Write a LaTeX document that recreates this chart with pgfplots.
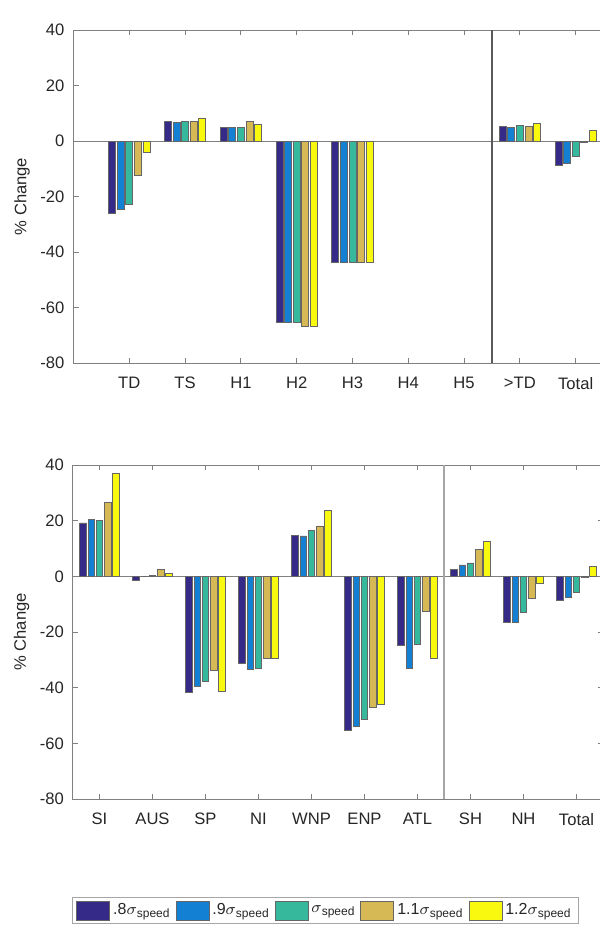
\documentclass[border=0pt]{standalone}
\usepackage{fontspec}
\setmainfont{Liberation Sans}
\usepackage{pgfplots}
\pgfplotsset{compat=1.18}
\definecolor{c1}{RGB}{53,42,135}
\definecolor{c2}{RGB}{20,128,212}
\definecolor{c3}{RGB}{54,184,156}
\definecolor{c4}{RGB}{214,185,84}
\definecolor{c5}{RGB}{249,249,15}
\definecolor{axgray}{RGB}{128,128,128}
\definecolor{txt}{RGB}{38,38,38}
\pgfplotsset{
  bb/.style={ybar, bar width=0.125, draw=black!60, line width=0.4pt},
  b1/.style={bb, bar shift=-0.308, fill=c1},
  b2/.style={bb, bar shift=-0.154, fill=c2},
  b3/.style={bb, bar shift=0, fill=c3},
  b4/.style={bb, bar shift=0.154, fill=c4},
  b5/.style={bb, bar shift=0.308, fill=c5},
  common/.style={
    scale only axis,
    ymin=-80, ymax=40,
    ytick={-80,-60,-40,-20,0,20,40},
    yticklabels={-80,-60,-40,-20,0,20,40},
    tick align=inside,
    major tick length=2.5pt,
    axis line style={axgray, line width=0.5pt},
    every tick/.style={axgray, line width=0.5pt},
    tick label style={font=\fontsize{8.3}{10}\selectfont, text=txt},
    xticklabel style={yshift=-3.5pt},
    yticklabel style={xshift=-1pt},
    label style={font=\fontsize{8.3}{10}\selectfont, text=txt},
  }
}
\begin{document}
\begin{tikzpicture}
% panel (a)
\begin{axis}[common,
  at={(36.75pt,285.5pt)}, anchor=south west,
  width=279pt, height=166.5pt,
  xmin=0, xmax=10,
  xtick={1,2,3,4,5,6,7,8,9},
  xticklabels={TD,TS,H1,H2,H3,H4,H5,>TD,Total},
  ylabel={\% Change},
  ylabel style={at={(axis description cs:-0.092,0.5)}, anchor=center, rotate=0},
]
\addplot[draw=axgray, line width=0.5pt, forget plot] coordinates {(0,0) (10,0)};
\addplot[b1] coordinates {(1,-26.0) (2,7.0) (3,4.8) (4,-65.4) (5,-43.6) (8,5.4) (9,-8.8)};
\addplot[b2] coordinates {(1,-24.5) (2,6.8) (3,4.8) (4,-65.4) (5,-43.6) (8,5.0) (9,-8.0)};
\addplot[b3] coordinates {(1,-22.7) (2,7.2) (3,4.8) (4,-65.4) (5,-43.6) (8,5.5) (9,-5.6)};
\addplot[b4] coordinates {(1,-12.5) (2,7.0) (3,6.9) (4,-66.9) (5,-43.6) (8,5.2) (9,-0.4)};
\addplot[b5] coordinates {(1,-4.2) (2,8.3) (3,6.0) (4,-66.9) (5,-43.6) (8,6.4) (9,3.7)};
\draw[black!65, line width=0.6pt] (axis cs:7.5,-80) -- (axis cs:7.5,40);
\node[font=\bfseries\fontsize{8.3}{10}\selectfont, text=txt, anchor=south] at (axis description cs:0.474,1.004) {(a)};
\end{axis}
% panel (b)
\begin{axis}[common,
  at={(36.5pt,67.5pt)}, anchor=south west,
  width=265pt, height=167pt,
  xmin=0.5, xmax=10.5,
  xtick={1,2,3,4,5,6,7,8,9,10},
  xticklabels={SI,AUS,SP,NI,WNP,ENP,ATL,SH,NH,Total},
  ylabel={\% Change},
  ylabel style={at={(axis description cs:-0.097,0.5)}, anchor=center, rotate=0},
  legend columns=5,
  legend image code/.code={\draw[#1] (0pt,-4.75pt) rectangle (16.5pt,4.75pt);},
  legend style={at={(axis description cs:-0.002,-0.293)}, anchor=north west,
    draw=black!35, line width=0.5pt, inner xsep=2pt, inner ysep=1.5pt,
    font=\fontsize{8}{9.6}\selectfont, text=txt,
    /tikz/every even column/.append style={column sep=1pt},
    /tikz/every odd column/.append style={column sep=0pt},
    nodes={inner sep=1.5pt}},
]
\addplot[draw=axgray, line width=0.5pt, forget plot] coordinates {(0.5,0) (10.5,0)};
\addplot[b1] coordinates {(1,19.2) (2,-1.6) (3,-41.8) (4,-31.2) (5,14.7) (6,-55.2) (7,-24.8) (8,2.4) (9,-16.5) (10,-8.8)};
\addplot[b2] coordinates {(1,20.4) (2,0.1) (3,-39.4) (4,-33.6) (5,14.5) (6,-54.0) (7,-33.2) (8,4.1) (9,-16.5) (10,-7.7)};
\addplot[b3] coordinates {(1,20.1) (2,0.3) (3,-37.8) (4,-33.1) (5,16.4) (6,-51.5) (7,-24.6) (8,4.8) (9,-13.0) (10,-5.6)};
\addplot[b4] coordinates {(1,26.5) (2,2.6) (3,-33.8) (4,-29.6) (5,18.1) (6,-47.2) (7,-12.5) (8,9.8) (9,-8.0) (10,-0.4)};
\addplot[b5] coordinates {(1,36.9) (2,1.0) (3,-41.2) (4,-29.6) (5,23.6) (6,-46.0) (7,-29.6) (8,12.5) (9,-2.6) (10,3.7)};
\legend{.8$\sigma$\textsubscript{speed}, .9$\sigma$\textsubscript{speed}, $\sigma$\textsubscript{speed}, 1.1$\sigma$\textsubscript{speed}, 1.2$\sigma$\textsubscript{speed}}
\draw[black!35, line width=0.6pt] (axis cs:7.5,-80) -- (axis cs:7.5,40);
\node[font=\bfseries\fontsize{8.3}{10}\selectfont, text=txt, anchor=south] at (axis description cs:0.5,1.004) {(b)};
\end{axis}
\pgfresetboundingbox
\useasboundingbox (0,0) rectangle (300pt,467pt);
\end{tikzpicture}
\end{document}
